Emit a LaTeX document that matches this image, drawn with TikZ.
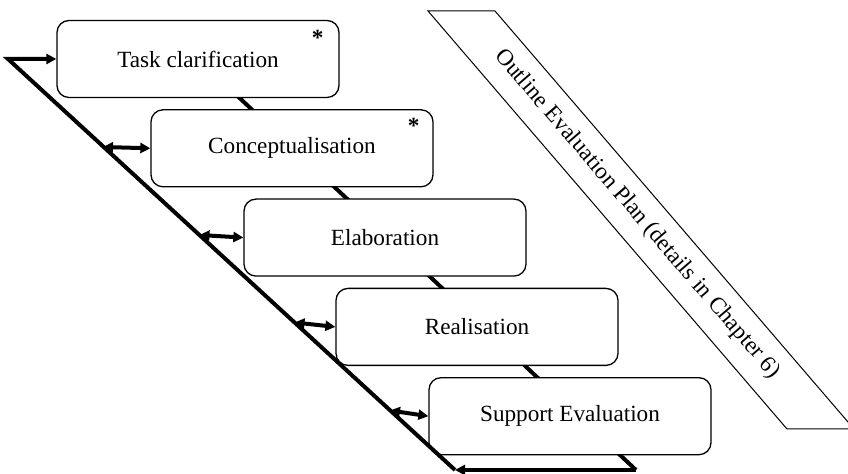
\documentclass[tikz,border=0pt]{standalone}
\usepackage{fontspec}
\setmainfont{Liberation Serif}
\usetikzlibrary{arrows.meta,backgrounds,positioning}

\begin{document}
\begin{tikzpicture}[x=0.5pt,y=-0.5pt,>={Triangle[length=5pt,width=5pt]},font=\fontsize{11.6}{13}\selectfont,node distance=5.5pt,
    stage/.style={draw,line width=0.65pt,rounded corners=6pt,fill=white,minimum width=141pt,minimum height=38.5pt,inner sep=0pt},
    flow/.style={line width=2pt}]
  \useasboundingbox (0,0) rectangle (848,474);
  \clip (0,0) rectangle (848,474);
  % outline evaluation plan
  \draw[line width=0.5pt] (428,11) -- (495,11) -- (854,429) -- (787,429) -- cycle;
  \node[rotate=-49.3] (plan) at (637,214) {Outline Evaluation Plan (details in Chapter 6)};
  % stages
  \node[stage] (task) at (198,59) {Task clarification};
  \node[stage,below=of task,xshift=47pt] (concept) {Conceptualisation};
  \node[stage,below=of concept,xshift=46.5pt] (elab) {Elaboration};
  \node[stage,below=of elab,xshift=46pt] (real) {Realisation};
  \node[stage,below=of real,xshift=46.5pt] (support) {Support Evaluation};
  \node[font=\fontsize{11.6}{13}\selectfont\bfseries] (star1) at ([xshift=-11pt,yshift=-9pt]task.north east) {*};
  \node[font=\fontsize{11.6}{13}\selectfont\bfseries] (star2) at ([xshift=-10pt,yshift=-8.5pt]concept.north east) {*};
  % loop
  \coordinate (tl) at (8,59);
  \coordinate (bl) at (455,470);
  \coordinate (br) at (636,470);
  \begin{scope}[on background layer]
    \draw[flow] (task.center) -- (br);
  \end{scope}
  \draw[flow,->] (br) -- (bl);
  \draw[flow,->] (bl) -- (tl) -- (task.west);
  % links from the return line
  \coordinate (d2) at (103,147);
  \coordinate (d3) at (199.5,235);
  \coordinate (d4) at (294.5,322.5);
  \coordinate (d5) at (390,410.5);
  \draw[flow,<->] (d2) -- (concept.west);
  \draw[flow,<->] (d3) -- (elab.west);
  \draw[flow,<->] (d4) -- (real.west);
  \draw[flow,<->] (d5) -- (support.west);
\end{tikzpicture}
\end{document}
